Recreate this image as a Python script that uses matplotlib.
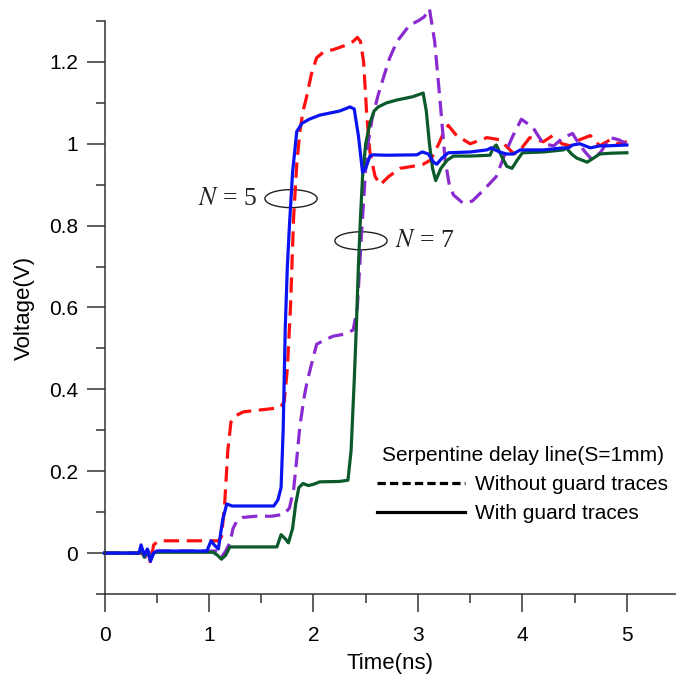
import matplotlib
matplotlib.use("Agg")
import matplotlib.pyplot as plt
from matplotlib.lines import Line2D
from matplotlib.patches import Ellipse
from matplotlib.ticker import MultipleLocator, FuncFormatter

# Serpentine delay line (S = 1 mm) step responses, time in ns, voltage in V
n5_no_guard = [
    (0, 0), (0.35, 0), (0.39, -0.01), (0.42, 0.005), (0.44, -0.025), (0.47, 0.02),
    (0.52, 0.03), (1.05, 0.03), (1.09, 0.03), (1.12, 0.04), (1.15, 0.12), (1.18, 0.25),
    (1.21, 0.32), (1.25, 0.335), (1.33, 0.345), (1.5, 0.35), (1.68, 0.355), (1.72, 0.37),
    (1.75, 0.45), (1.78, 0.6), (1.81, 0.82), (1.84, 0.95), (1.87, 1.03), (1.9, 1.08),
    (1.93, 1.11), (1.98, 1.17), (2.03, 1.21), (2.1, 1.225), (2.19, 1.23), (2.3, 1.24),
    (2.38, 1.25), (2.42, 1.26), (2.45, 1.25), (2.48, 1.2), (2.51, 1.07), (2.54, 0.98),
    (2.59, 0.92), (2.64, 0.90), (2.72, 0.92), (2.83, 0.94), (2.95, 0.945), (3.05, 0.95),
    (3.12, 0.96), (3.2, 1.0), (3.25, 1.03), (3.29, 1.045), (3.37, 1.02), (3.5, 1.0),
    (3.66, 1.015), (3.78, 1.01), (3.85, 0.993), (3.92, 0.975), (3.98, 0.985), (4.07, 1.015),
    (4.2, 1.005), (4.29, 1.02), (4.38, 1.0), (4.46, 0.995), (4.55, 1.01), (4.65, 1.02),
    (4.74, 0.995), (4.84, 1.01), (4.92, 1.0), (5.0, 1.005),
]

n5_guard = [
    (0, 0), (0.33, 0), (0.35, 0.02), (0.38, -0.005), (0.41, 0.01), (0.44, -0.02),
    (0.47, 0.0), (0.5, 0.005), (0.98, 0.005), (1.02, 0.03), (1.05, 0.02), (1.09, 0.01),
    (1.13, 0.08), (1.17, 0.12), (1.22, 0.115), (1.4, 0.115), (1.62, 0.115), (1.66, 0.13),
    (1.69, 0.16), (1.71, 0.3), (1.73, 0.55), (1.75, 0.7), (1.77, 0.8), (1.8, 0.93),
    (1.84, 1.03), (1.89, 1.05), (1.96, 1.06), (2.06, 1.07), (2.25, 1.08), (2.35, 1.09),
    (2.39, 1.085), (2.43, 1.02), (2.47, 0.93), (2.5, 0.94), (2.54, 0.97), (2.57, 0.973),
    (2.7, 0.972), (2.99, 0.973), (3.04, 0.98), (3.1, 0.975), (3.15, 0.955), (3.18, 0.95),
    (3.23, 0.965), (3.29, 0.978), (3.5, 0.98), (3.66, 0.985), (3.7, 0.99), (3.78, 0.98),
    (3.85, 0.975), (3.91, 0.975), (3.98, 0.985), (4.2, 0.985), (4.39, 0.99), (4.44, 0.99),
    (4.48, 0.997), (4.55, 1.0), (4.65, 0.99), (4.74, 0.995), (4.81, 0.995), (5.0, 0.997),
]

n7_no_guard = [
    (0, 0), (0.33, 0), (0.36, 0.01), (0.39, -0.01), (0.42, 0.005), (0.45, -0.01),
    (0.48, 0.0), (0.52, 0.005), (1.08, 0.005), (1.12, -0.01), (1.16, 0.005), (1.2, 0.025),
    (1.23, 0.06), (1.27, 0.08), (1.32, 0.087), (1.45, 0.09), (1.6, 0.09), (1.72, 0.095),
    (1.77, 0.11), (1.81, 0.155), (1.84, 0.23), (1.87, 0.31), (1.91, 0.38), (1.94, 0.42),
    (1.98, 0.46), (2.03, 0.51), (2.1, 0.52), (2.19, 0.53), (2.3, 0.535), (2.38, 0.545),
    (2.42, 0.6), (2.46, 0.78), (2.51, 0.98), (2.56, 1.06), (2.62, 1.12), (2.68, 1.17),
    (2.73, 1.21), (2.8, 1.25), (2.92, 1.29), (3.0, 1.3), (3.06, 1.31), (3.11, 1.33),
    (3.16, 1.25), (3.21, 1.11), (3.26, 0.96), (3.3, 0.9), (3.34, 0.875), (3.43, 0.855),
    (3.52, 0.86), (3.64, 0.89), (3.75, 0.92), (3.84, 0.98), (3.91, 1.02), (3.99, 1.06),
    (4.1, 1.04), (4.2, 1.0), (4.3, 0.995), (4.39, 1.015), (4.48, 1.025), (4.54, 1.0),
    (4.6, 0.98), (4.67, 0.96), (4.75, 0.98), (4.84, 1.015), (4.92, 1.01), (5.0, 1.0),
]

n7_guard = [
    (0, 0), (0.33, 0), (0.35, 0.01), (0.38, -0.01), (0.41, 0.005), (0.44, -0.015),
    (0.47, 0.0), (0.5, 0.002), (1.04, 0.002), (1.08, -0.005), (1.12, -0.015), (1.16, -0.005),
    (1.2, 0.015), (1.3, 0.015), (1.65, 0.015), (1.69, 0.045), (1.73, 0.035), (1.76, 0.025),
    (1.8, 0.06), (1.83, 0.12), (1.86, 0.16), (1.9, 0.17), (1.95, 0.165), (2.0, 0.168),
    (2.06, 0.174), (2.25, 0.175), (2.33, 0.178), (2.36, 0.25), (2.39, 0.42), (2.41, 0.55),
    (2.43, 0.7), (2.45, 0.82), (2.47, 0.92), (2.5, 1.0), (2.54, 1.05), (2.58, 1.08),
    (2.62, 1.09), (2.7, 1.1), (2.8, 1.107), (2.95, 1.115), (3.05, 1.124), (3.08, 1.08),
    (3.11, 1.0), (3.14, 0.94), (3.17, 0.91), (3.22, 0.94), (3.28, 0.96), (3.34, 0.97),
    (3.5, 0.97), (3.69, 0.972), (3.72, 0.99), (3.75, 0.997), (3.8, 0.97), (3.85, 0.945),
    (3.9, 0.94), (3.95, 0.96), (4.0, 0.978), (4.2, 0.98), (4.39, 0.985), (4.42, 0.99),
    (4.47, 0.975), (4.52, 0.965), (4.62, 0.955), (4.68, 0.965), (4.74, 0.975), (4.85, 0.977),
    (5.0, 0.978),
]

x_ticks = [0, 1, 2, 3, 4, 5]
y_ticks = [0, 0.2, 0.4, 0.6, 0.8, 1.0, 1.2]

RED = "#ff1010"
BLUE = "#0a14f0"
PURPLE = "#8a2ad0"
GREEN = "#0b5a2c"
AXIS = "#333333"

plt.rcParams["font.family"] = ["Liberation Sans", "DejaVu Sans"]
plt.rcParams["mathtext.fontset"] = "stix"

fig = plt.figure(figsize=(6.76, 6.77), dpi=100)
ax = fig.add_axes([0.1546, 0.1226, 0.8454, 0.8464])

dash = (4.8, 2.4)
lw = 2.3


def draw(points, color, dashed):
    t, v = zip(*points)
    line, = ax.plot(t, v, color=color, lw=lw, solid_joinstyle="round", clip_on=False)
    if dashed:
        line.set_dashes(dash)
    return line


draw(n5_no_guard, RED, True)
draw(n7_no_guard, PURPLE, True)
draw(n7_guard, GREEN, False)
draw(n5_guard, BLUE, False)

ax.set_xlim(0, 5.47)
ax.set_ylim(-0.1, 1.3)

for side in ("top", "right"):
    ax.spines[side].set_visible(False)
for side in ("left", "bottom"):
    ax.spines[side].set_color(AXIS)
    ax.spines[side].set_linewidth(1.1)

ax.set_xticks(x_ticks)
ax.set_yticks(y_ticks)
ax.xaxis.set_minor_locator(MultipleLocator(0.5))
ax.yaxis.set_minor_locator(MultipleLocator(0.1))
ax.yaxis.set_major_formatter(FuncFormatter(lambda v, _: f"{v:g}"))
ax.xaxis.set_major_formatter(FuncFormatter(lambda v, _: f"{v:g}"))
ax.tick_params(which="major", direction="out", length=13, width=1.1, color=AXIS,
               labelsize=15, pad=6)
ax.tick_params(axis="x", which="major", pad=10)
ax.tick_params(which="minor", direction="out", length=6.5, width=1.1, color=AXIS)

ax.set_xlabel("Time(ns)", fontsize=16, labelpad=6)
ax.set_ylabel("Voltage(V)", fontsize=16, labelpad=10)

# Group markers for the two serpentine lengths
ax.add_patch(Ellipse((1.785, 0.866), 0.50, 0.044, fill=False, lw=1.0, ec="#222222"))
ax.add_patch(Ellipse((2.455, 0.763), 0.50, 0.044, fill=False, lw=1.0, ec="#222222"))
ax.text(1.46, 0.866, "$N$ = 5", fontsize=18.5, family="Liberation Serif",
        ha="right", va="center", color="#222222")
ax.text(2.78, 0.763, "$N$ = 7", fontsize=18.5, family="Liberation Serif",
        ha="left", va="center", color="#222222")

handles = [
    Line2D([], [], color="black", lw=2.3, dashes=(2.6, 1.3)),
    Line2D([], [], color="black", lw=2.3),
]
leg = ax.legend(handles, ["Without guard traces", "With guard traces"],
                title="Serpentine delay line(S=1mm)", title_fontsize=15, fontsize=15,
                frameon=False, loc="upper left", bbox_to_anchor=(0.477, 0.259),
                borderpad=0, borderaxespad=0, handlelength=4.2, handletextpad=0.5,
                labelspacing=0.5)

fig.savefig("out.png", dpi=100)
